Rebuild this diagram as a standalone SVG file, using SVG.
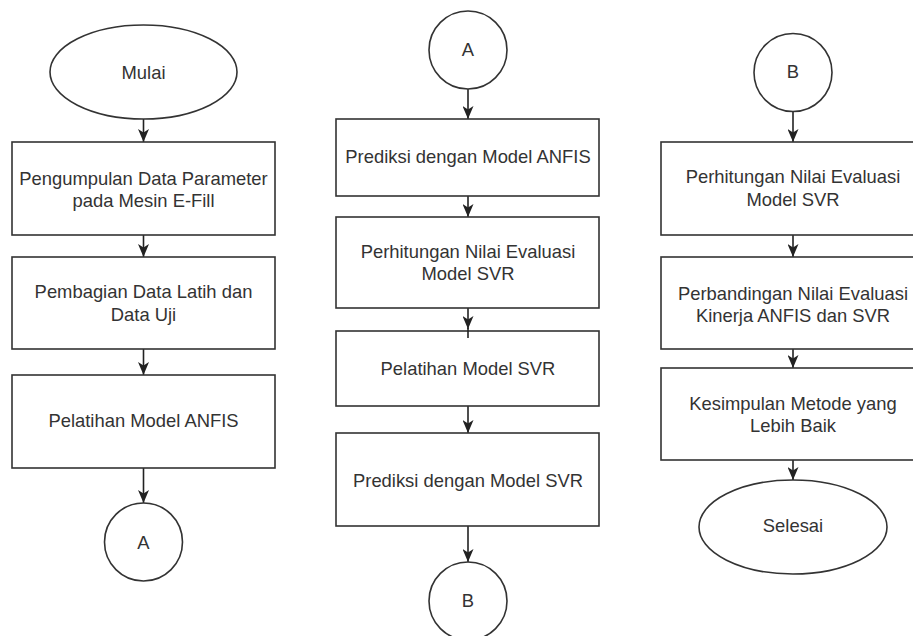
<svg xmlns="http://www.w3.org/2000/svg" width="913" height="636" viewBox="0 0 913 636">
<style>
.s{fill:#fff;stroke:#333;stroke-width:1.6}
.t{font-family:"Liberation Sans",Arial,sans-serif;font-size:18.4px;fill:#333;text-anchor:middle}
.c{stroke:#222;stroke-width:1.6;fill:none}
</style>
<defs>
<marker id="ah" viewBox="0 0 13 11" refX="13" refY="5.5" markerWidth="13" markerHeight="11" orient="auto" markerUnits="userSpaceOnUse">
<path d="M0,0 L13,5.5 L0,11 L3.5,5.5 Z" fill="#222"/>
</marker>
</defs>
<rect width="913" height="636" fill="#fff"/>
<g id="connectors">
<line class="c" x1="143.5" y1="119" x2="143.5" y2="142" marker-end="url(#ah)"/>
<line class="c" x1="143.5" y1="235" x2="143.5" y2="257" marker-end="url(#ah)"/>
<line class="c" x1="143.5" y1="349" x2="143.5" y2="375" marker-end="url(#ah)"/>
<line class="c" x1="143.5" y1="468" x2="143.5" y2="503" marker-end="url(#ah)"/>
<line class="c" x1="468" y1="89" x2="468" y2="119" marker-end="url(#ah)"/>
<line class="c" x1="468" y1="196" x2="468" y2="217" marker-end="url(#ah)"/>
<line class="c" x1="468" y1="308" x2="468" y2="329" marker-end="url(#ah)"/>
<line class="c" x1="468" y1="406" x2="468" y2="433" marker-end="url(#ah)"/>
<line class="c" x1="468" y1="526" x2="468" y2="562" marker-end="url(#ah)"/>
<line class="c" x1="793" y1="111.5" x2="793" y2="142" marker-end="url(#ah)"/>
<line class="c" x1="793" y1="235" x2="793" y2="257" marker-end="url(#ah)"/>
<line class="c" x1="793" y1="349" x2="793" y2="368" marker-end="url(#ah)"/>
<line class="c" x1="793" y1="460" x2="793" y2="480" marker-end="url(#ah)"/>
</g>
<g id="mulai"><ellipse class="s" cx="143.5" cy="72" rx="93.5" ry="47"/><text class="t" x="143.5" y="78.5">Mulai</text></g>
<g id="pengumpulan"><rect class="s" x="12" y="142" width="263" height="93"/><text class="t" x="143.5" y="184.5">Pengumpulan Data Parameter</text><text class="t" x="143.5" y="206.5">pada Mesin E-Fill</text></g>
<g id="pembagian"><rect class="s" x="12" y="257" width="263" height="92"/><text class="t" x="143.5" y="298">Pembagian Data Latih dan</text><text class="t" x="143.5" y="321">Data Uji</text></g>
<g id="pelatihan-anfis"><rect class="s" x="12" y="375" width="263" height="93"/><text class="t" x="143.5" y="427">Pelatihan Model ANFIS</text></g>
<g id="a-out"><circle class="s" cx="143.5" cy="542" r="39"/><text class="t" x="143.5" y="548.5">A</text></g>

<g id="a-in"><circle class="s" cx="468" cy="50" r="39"/><text class="t" x="468" y="56">A</text></g>
<g id="prediksi-anfis"><rect class="s" x="336" y="119" width="263" height="77"/><text class="t" x="468" y="163">Prediksi dengan Model ANFIS</text></g>
<g id="perhitungan-svr-1"><rect class="s" x="336" y="217" width="263" height="91"/><text class="t" x="468" y="258">Perhitungan Nilai Evaluasi</text><text class="t" x="468" y="280">Model SVR</text></g>
<g id="pelatihan-svr"><rect class="s" x="336" y="331" width="263" height="75"/><text class="t" x="468" y="374.5">Pelatihan Model SVR</text></g>
<line class="c" x1="468" y1="328" x2="468" y2="338"/>
<g id="prediksi-svr"><rect class="s" x="336" y="433" width="263" height="93"/><text class="t" x="468" y="486.5">Prediksi dengan Model SVR</text></g>
<g id="b-out"><circle class="s" cx="468" cy="601" r="39"/><text class="t" x="468" y="606.5">B</text></g>

<g id="b-in"><circle class="s" cx="793" cy="72.5" r="39"/><text class="t" x="793" y="78">B</text></g>
<g id="perhitungan-svr-2"><rect class="s" x="661" y="142" width="264" height="93"/><text class="t" x="793" y="183">Perhitungan Nilai Evaluasi</text><text class="t" x="793" y="206">Model SVR</text></g>
<g id="perbandingan"><rect class="s" x="661" y="257" width="264" height="92"/><text class="t" x="793" y="299.5">Perbandingan Nilai Evaluasi</text><text class="t" x="793" y="321.5">Kinerja ANFIS dan SVR</text></g>
<g id="kesimpulan"><rect class="s" x="661" y="368" width="264" height="92"/><text class="t" x="793" y="409.5">Kesimpulan Metode yang</text><text class="t" x="793" y="431.5">Lebih Baik</text></g>
<g id="selesai"><ellipse class="s" cx="793" cy="527" rx="94" ry="47"/><text class="t" x="793" y="531.5">Selesai</text></g>
</svg>
